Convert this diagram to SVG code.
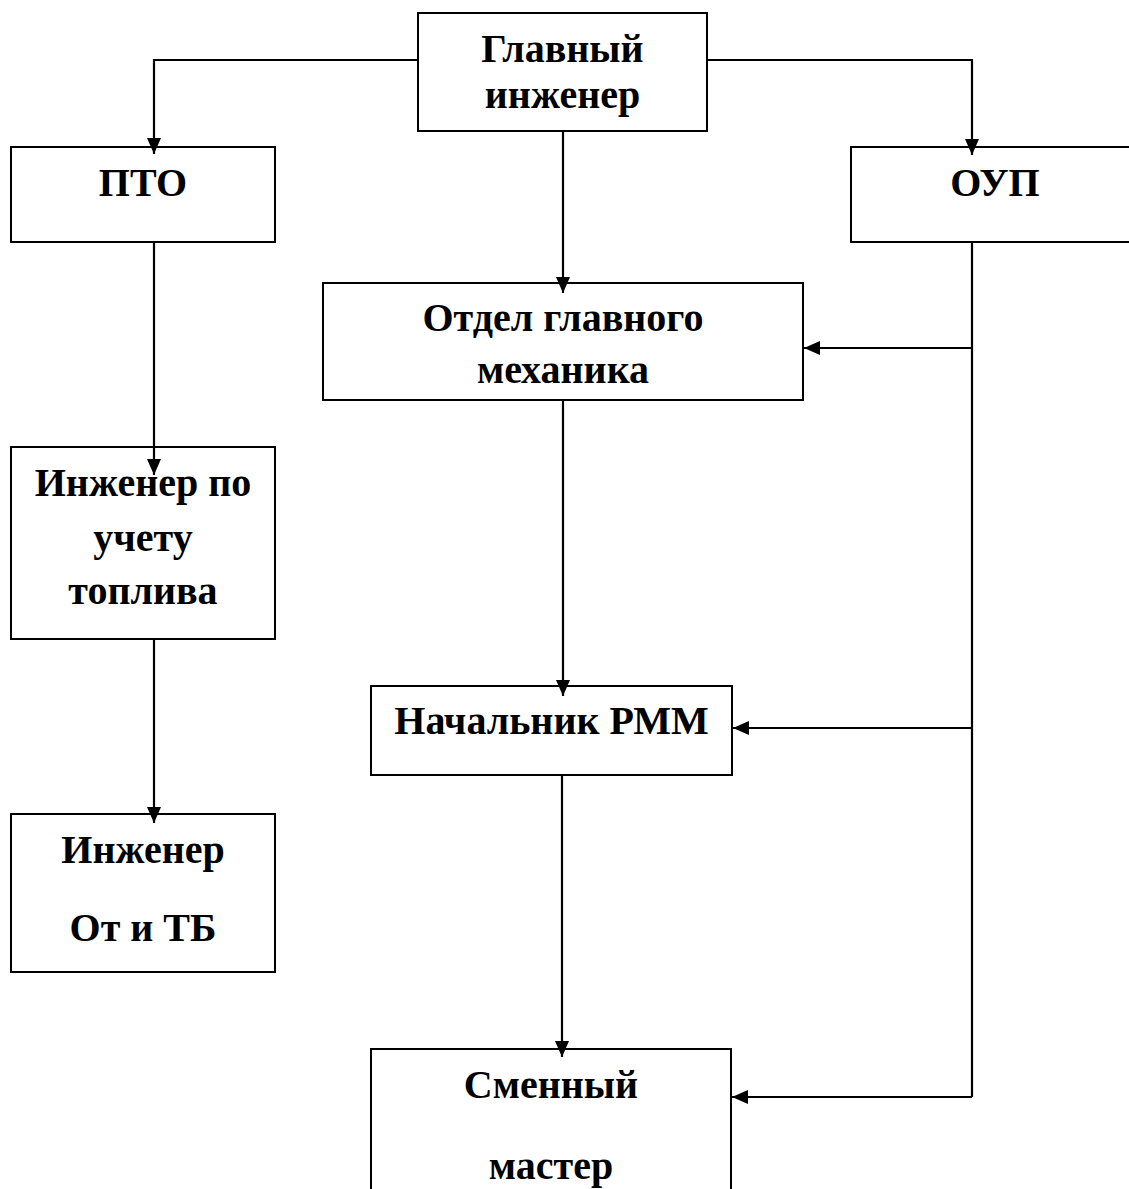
<svg xmlns="http://www.w3.org/2000/svg" width="1129" height="1189" viewBox="0 0 1129 1189">
  <style>
    .box { fill: #ffffff; stroke: #000000; stroke-width: 2; }
    .lbl { font-family: "Liberation Serif", "Times New Roman", serif; font-weight: bold; font-size: 40px; fill: #000000; text-anchor: middle; }
    .wire { fill: none; stroke: #000000; stroke-width: 2.2; }
  </style>
  <defs>
    <marker id="arrow" markerUnits="userSpaceOnUse" markerWidth="16" markerHeight="14" refX="16" refY="7" orient="auto">
      <path d="M0,0 L16,7 L0,14 Z" fill="#000000"/>
    </marker>
  </defs>

  <rect width="1129" height="1189" fill="#ffffff"/>

  <!-- nodes -->
  <g id="chief-engineer">
    <rect class="box" x="418" y="13" width="289" height="118"/>
    <text class="lbl" x="562.5" y="62">Главный</text>
    <text class="lbl" x="562.5" y="108">инженер</text>
  </g>
  <g id="pto">
    <rect class="box" x="11" y="147" width="264" height="95"/>
    <text class="lbl" x="143" y="196">ПТО</text>
  </g>
  <g id="oup">
    <rect class="box" x="851" y="147" width="290" height="95"/>
    <text class="lbl" x="995" y="196">ОУП</text>
  </g>
  <g id="chief-mechanic-dept">
    <rect class="box" x="323" y="283" width="480" height="117"/>
    <text class="lbl" x="563" y="331">Отдел главного</text>
    <text class="lbl" x="563" y="383">механика</text>
  </g>
  <g id="fuel-engineer">
    <rect class="box" x="11" y="447" width="264" height="192"/>
    <text class="lbl" x="143" y="496">Инженер по</text>
    <text class="lbl" x="143" y="551">учету</text>
    <text class="lbl" x="143" y="604">топлива</text>
  </g>
  <g id="safety-engineer">
    <rect class="box" x="11" y="814" width="264" height="158"/>
    <text class="lbl" x="143" y="863">Инженер</text>
    <text class="lbl" x="143" y="941">От и ТБ</text>
  </g>
  <g id="rmm-head">
    <rect class="box" x="371" y="686" width="361" height="89"/>
    <text class="lbl" x="551.5" y="734">Начальник РММ</text>
  </g>
  <g id="shift-master">
    <rect class="box" x="371" y="1049" width="360" height="160"/>
    <text class="lbl" x="551" y="1098">Сменный</text>
    <text class="lbl" x="551" y="1179">мастер</text>
  </g>

  <!-- connectors -->
  <g id="connectors">
    <path class="wire" d="M418,60 H154 V154" marker-end="url(#arrow)"/>
    <path class="wire" d="M707,60 H972 V155" marker-end="url(#arrow)"/>
    <path class="wire" d="M563,131 V293" marker-end="url(#arrow)"/>
    <path class="wire" d="M154,242 V475" marker-end="url(#arrow)"/>
    <path class="wire" d="M154,639 V823" marker-end="url(#arrow)"/>
    <path class="wire" d="M563,400 V696" marker-end="url(#arrow)"/>
    <path class="wire" d="M562,775 V1057" marker-end="url(#arrow)"/>
    <path class="wire" d="M972,242 V1097"/>
    <path class="wire" d="M972,348 H804" marker-end="url(#arrow)"/>
    <path class="wire" d="M972,728 H733" marker-end="url(#arrow)"/>
    <path class="wire" d="M972,1097 H732" marker-end="url(#arrow)"/>
  </g>
</svg>
